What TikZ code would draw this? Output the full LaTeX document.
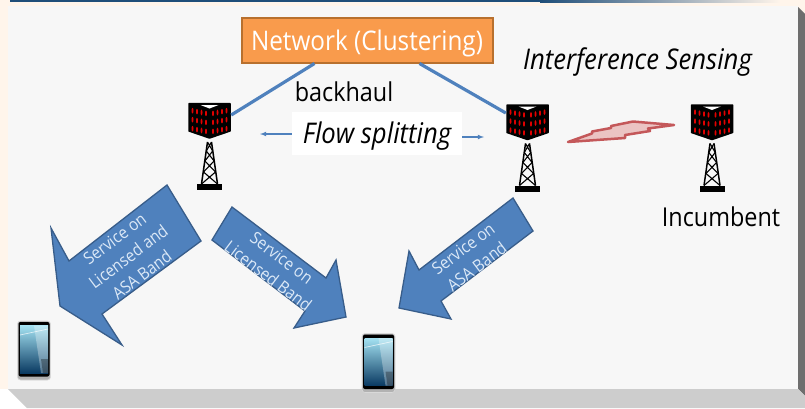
\documentclass[tikz,border=0pt]{standalone}
\usepackage{fontspec}
\setmainfont[FakeStretch=0.9]{Open Sans}
\usepackage{xcolor}
\usetikzlibrary{arrows,positioning}

\definecolor{panelgray}{HTML}{F7F7F7}
\definecolor{creamback}{HTML}{FFF5EB}
\definecolor{bevelgray}{HTML}{CDCDCD}
\definecolor{beveldark}{HTML}{6E6E6E}
\definecolor{topblue}{HTML}{1F4E79}
\definecolor{netorange}{HTML}{F99B4C}
\definecolor{netborder}{HTML}{B8702E}
\definecolor{linkblue}{HTML}{4F81BD}
\definecolor{arrowedge}{HTML}{385D8A}
\definecolor{arrowtext}{HTML}{DCE9F7}
\definecolor{boltred}{HTML}{C4585A}
\definecolor{boltpink}{HTML}{EBC4C3}
\definecolor{ledred}{HTML}{E00000}
\definecolor{screentop}{HTML}{A4E2F2}
\definecolor{screenmid}{HTML}{45AEDA}
\definecolor{screenbot}{HTML}{0A3A62}

\tikzset{
    tower/.pic = {
        \draw[black, line width=1.5pt] (-2,40) -- (-8,82) (2,40) -- (8,82);
        \foreach \ya/\wa/\yb/\wb in {40/2/49/3.2, 49/3.2/59/4.6, 59/4.6/70/6, 70/6/82/8} {
            \draw[black, line width=1.1pt] (-\wa,\ya) -- (\wb,\yb) (\wa,\ya) -- (-\wb,\yb);
        }
        \fill[black] (-12.5,82) rectangle (12.5,88);
        \node[minimum width=43pt, minimum height=36pt, inner sep=0pt] (-head) at (0,18.5) {};
        \fill[black, draw=black, line width=1.5pt, line join=round]
            (-20.5,1.5) -- (20.5,1.5) -- (20.5,29) -- (0,36) -- (-20.5,29) -- cycle;
        \fill[white] (-9,3) -- (9,3) -- (0,6.5) -- cycle;
        \foreach \x in {-17,-12.5,-8,-3.5,3.5,8,12.5,17} {
            \foreach \r in {6.5,15.5,24.5} {
                \fill[ledred] ({\x},{\r+2.2+0.2*(17-abs(\x))}) ellipse (1 and 2.8);
            }
        }
    },
    phone/.pic = {
        \fill[gray!60, draw=gray!30, line width=0.6pt, rounded corners=3pt] (-16.5,0) rectangle (16.5,59);
        \fill[black, rounded corners=2pt] (-15.5,1) rectangle (15.5,55.5);
        \shade[top color=screentop, middle color=screenmid, bottom color=screenbot]
            (-14,4.5) rectangle (14,52);
        \fill[white, opacity=0.3] (0,4.5) -- (14,4.5) -- (14,52) -- (7,52) -- cycle;
        \draw[white, opacity=0.7, line width=0.7pt] (-14,14) -- (14,8);
        \fill[black, opacity=0.3] (7,38) -- (14,38) -- (14,52) -- (9,52) -- cycle;
    }
}

\begin{document}
\begin{tikzpicture} [
    x = 1pt, y = -1pt,
    netbox/.style = {fill=netorange, draw=netborder, line width=2pt, text=white, minimum width=251pt, minimum height=45pt, inner sep=0, text height=20pt, text depth=0pt, font=\fontsize{27}{32}\selectfont},
    bluelink/.style = {linkblue, line width=3.2pt},
    flowarrow/.style = {linkblue, line width=1.1pt, -latex},
    blockarrow/.style = {fill=linkblue, draw=arrowedge, line width=1.3pt, line join=miter},
    servicetext/.style = {text=arrowtext, align=center, inner sep=0, font=\fontsize{17}{22.5}\selectfont},
    label/.style = {inner sep=0, text=black, font=\fontsize{26}{30}\selectfont},
    italiclabel/.style = {label, font=\fontsize{28.5}{32}\selectfont\itshape},
    bolt/.style = {fill=boltpink, draw=boltred, line width=2.5pt, line join=round}
    ]

    % background
    \useasboundingbox (0,0) rectangle (805,408);
    \fill[creamback] (0,0) rectangle (805,389);
    \fill[topblue] (10,0) rectangle (540,2);
    \shade[left color=topblue, right color=creamback] (540,0) rectangle (780,2);
    \fill[panelgray] (8,6) rectangle (798,389);
    \fill[beveldark] (798,7) -- (805,14) -- (805,396) -- (798,389) -- cycle;
    \fill[bevelgray] (8,389) -- (798,389) -- (805,396) -- (805,408) -- (27,408) -- cycle;

    \node[netbox] (net) at (367,40) {Network (Clustering)};

    \pic (towerA) at (209.5,102) {tower};
    \pic (towerB) at (527.5,103.5) {tower};
    \pic (towerC) at (712,103.5) {tower};

    \draw[bluelink] ([xshift=74pt]net.south west) -- ([yshift=5.5pt]towerA-head.east);
    \draw[bluelink] ([xshift=-74pt]net.south east) -- ([yshift=9pt]towerB-head.west);

    \node[label] (backhaul) at (344,92) {backhaul};
    \node[italiclabel, fill=white, minimum width=170pt, minimum height=43pt, text height=20pt, text depth=0pt] (flow) at (377,133.5) {Flow splitting};
    \coordinate (flowL) at (260,134);
    \coordinate (flowR) at (484,137);
    \draw[flowarrow] (flow.west |- flowL) -- (flowL);
    \draw[flowarrow] (flow.east |- flowR) -- (flowR);

    \node[italiclabel] (sensing) at (637.5,62) {Interference Sensing};
    \node[label] (incumbent) at (721,217) {Incumbent};

    % interference bolt
    \draw[bolt] (568,142) -- (592,133.5) -- (592,131.5) -- (611,128) -- (611,126) -- (633,121.5) -- (674,125) -- (648,128.5) -- (650,131) -- (625,135) -- (625,138) -- cycle;

    % service arrows
    \draw[blockarrow] (167,185) -- (201,241) -- (102,314) -- (122,345) -- (60,306) -- (51,228) -- (69,261) -- cycle;
    \node[servicetext, rotate=37] (svcA) at (128.3,256.7) {Service on\\Licensed and\\ASA Band};
    \draw[blockarrow] (232,207) -- (212,240) -- (305,311) -- (294,328) -- (346,317) -- (336,260) -- (326,278) -- cycle;
    \node[servicetext, rotate=-37] (svcB) at (275,267) {Service on\\Licensed Band};
    \draw[blockarrow] (513,198) -- (533,231) -- (441,301) -- (451,319) -- (399,308) -- (409,251) -- (419,270) -- cycle;
    \node[servicetext, rotate=37] (svcC) at (470,257.5) {Service on\\ASA Band};

    \pic (phoneA) at (34,321) {phone};
    \pic (phoneB) at (378.5,333.5) {phone};
\end{tikzpicture}
\end{document}
